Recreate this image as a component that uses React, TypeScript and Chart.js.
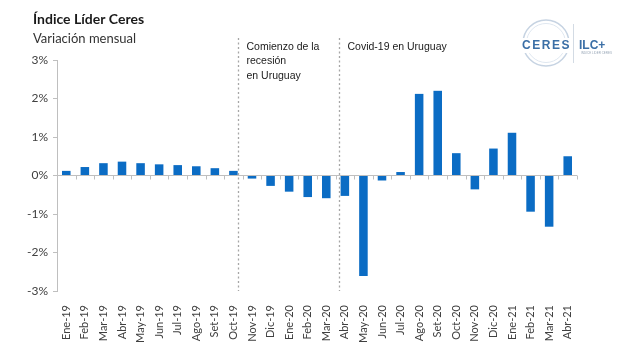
import React, { useEffect, useRef } from "react";
import { Chart, registerables } from "chart.js";

Chart.register(...registerables);

const categories = [
  "Ene-19", "Feb-19", "Mar-19", "Abr-19", "May-19", "Jun-19", "Jul-19", "Ago-19", "Set-19", "Oct-19",
  "Nov-19", "Dic-19", "Ene-20", "Feb-20", "Mar-20", "Abr-20", "May-20", "Jun-20", "Jul-20", "Ago-20",
  "Set-20", "Oct-20", "Nov-20", "Dic-20", "Ene-21", "Feb-21", "Mar-21", "Abr-21",
];

const monthlyChange = [
  0.12, 0.22, 0.32, 0.36, 0.32, 0.29, 0.27, 0.24, 0.19, 0.12,
  -0.08, -0.27, -0.42, -0.56, -0.59, -0.53, -2.61, -0.13, 0.09, 2.12,
  2.2, 0.58, -0.36, 0.7, 1.11, -0.94, -1.33, 0.5,
];

const yTicks = [-3, -2, -1, 0, 1, 2, 3];

// event markers, in category-index units
const eventPositions = [9.25, 14.69];
const eventLabels = [["Comienzo de la", "recesión", "en Uruguay"], ["Covid-19 en Uruguay"]];

const titleText = "Índice Líder Ceres";
const subtitleText = "Variación mensual";

const BAR_COLOR = "#0b6cc4";
const AXIS_COLOR = "#bfbfbf";

const decorPlugin = {
  id: "decor",
  afterDraw(chart: any) {
    const { ctx, chartArea, scales } = chart;
    const x = scales.x;
    const y = scales.y;
    ctx.save();

    // boundary tick marks on zero line
    const y0 = y.getPixelForValue(0);
    ctx.strokeStyle = AXIS_COLOR;
    ctx.lineWidth = 1;
    for (let i = 0; i <= categories.length; i++) {
      const px = Math.round(x.getPixelForValue(i - 0.5)) + 0.5;
      ctx.beginPath();
      ctx.moveTo(px, y0);
      ctx.lineTo(px, y0 + 4);
      ctx.stroke();
    }

    // event lines and labels
    ctx.strokeStyle = "#a6a6a6";
    ctx.lineWidth = 1.3;
    ctx.setLineDash([2, 2.5]);
    eventPositions.forEach((pos, k) => {
      const px = Math.round(x.getPixelForValue(pos)) + 0.5;
      ctx.beginPath();
      ctx.moveTo(px, chartArea.top - 22);
      ctx.lineTo(px, chartArea.bottom);
      ctx.stroke();
      ctx.fillStyle = "#1a1a1a";
      ctx.font = "10.5px 'Liberation Sans', Arial, sans-serif";
      ctx.textBaseline = "middle";
      ctx.textAlign = "left";
      eventLabels[k].forEach((line, j) => {
        ctx.fillText(line, px + 8, chartArea.top - 13 + j * 14.5);
      });
    });
    ctx.setLineDash([]);

    // titles
    ctx.fillStyle = "#1a1a1a";
    ctx.textAlign = "left";
    ctx.textBaseline = "alphabetic";
    ctx.font = "bold 14px Lato, sans-serif";
    ctx.fillText(titleText, 33, 24);
    ctx.fillStyle = "#333333";
    ctx.font = "13px Lato, sans-serif";
    ctx.fillText(subtitleText, 33, 43);

    // logo
    ctx.strokeStyle = "#c6d3e2";
    ctx.lineWidth = 1.5;
    ctx.beginPath();
    ctx.arc(546, 43, 23, 0, Math.PI * 2);
    ctx.stroke();
    ctx.strokeStyle = "#dfe7f0";
    ctx.lineWidth = 1;
    ctx.beginPath();
    ctx.arc(546, 43, 19.5, 0, Math.PI * 2);
    ctx.stroke();
    ctx.fillStyle = "#ffffff";
    ctx.fillRect(520, 38, 52, 15);
    ctx.fillStyle = "#3b6fa6";
    ctx.font = "bold 12px 'Liberation Sans', Arial, sans-serif";
    ctx.textBaseline = "middle";
    ctx.textAlign = "center";
    (ctx as any).letterSpacing = "1.5px";
    ctx.fillText("CERES", 546.5, 46);
    (ctx as any).letterSpacing = "0px";
    ctx.strokeStyle = "#d3dbe4";
    ctx.lineWidth = 1;
    ctx.beginPath();
    ctx.moveTo(573.5, 24);
    ctx.lineTo(573.5, 63);
    ctx.stroke();
    ctx.textAlign = "left";
    ctx.font = "bold 12px 'Liberation Sans', Arial, sans-serif";
    ctx.fillText("ILC+", 579, 46);
    ctx.fillStyle = "#9aa8b8";
    ctx.font = "3px 'Liberation Sans', Arial, sans-serif";
    ctx.fillText("ÍNDICE LÍDER CERES", 581, 53);

    ctx.restore();
  },
};

export default function App() {
  const canvasRef = useRef<HTMLCanvasElement | null>(null);

  useEffect(() => {
    document.body.style.margin = "0";
    const canvas = canvasRef.current;
    if (!canvas) return;
    const chart = new Chart(canvas, {
      type: "bar",
      data: {
        labels: categories,
        datasets: [
          {
            data: monthlyChange,
            backgroundColor: BAR_COLOR,
            borderWidth: 0,
            barPercentage: 0.46,
            categoryPercentage: 1,
          },
        ],
      },
      options: {
        animation: false,
        responsive: false,
        maintainAspectRatio: false,
        layout: { padding: { top: 60, right: 63, left: 0, bottom: 0 } },
        plugins: {
          legend: { display: false },
          tooltip: { enabled: false },
          title: { display: false },
        },
        scales: {
          x: {
            grid: { display: false },
            border: { display: false },
            ticks: {
              minRotation: 90,
              maxRotation: 90,
              autoSkip: false,
              padding: 6,
              color: "#404040",
              font: { family: "Lato, sans-serif", size: 11 },
            },
            afterFit: (scale: any) => {
              scale.height = 73;
            },
          },
          y: {
            min: -3,
            max: 3,
            afterBuildTicks: (scale: any) => {
              scale.ticks = yTicks.map((v) => ({ value: v }));
            },
            grid: {
              color: (c: any) => (c.tick && c.tick.value === 0 ? AXIS_COLOR : "rgba(0,0,0,0)"),
              tickColor: AXIS_COLOR,
              tickLength: 4,
              drawTicks: true,
            },
            border: { display: true, color: AXIS_COLOR },
            ticks: {
              padding: 5,
              color: "#404040",
              font: { family: "Lato, sans-serif", size: 12 },
              callback: (v: any) => `${v}%`,
            },
            afterFit: (scale: any) => {
              scale.width = 57;
            },
          },
        },
      },
      plugins: [decorPlugin],
    });
    return () => chart.destroy();
  }, []);

  return (
    <div style={{ position: "absolute", left: 0, top: 0, width: 640, height: 364, background: "#fff" }}>
      <canvas ref={canvasRef} width={640} height={364} style={{ width: 640, height: 364 }} />
    </div>
  );
}
